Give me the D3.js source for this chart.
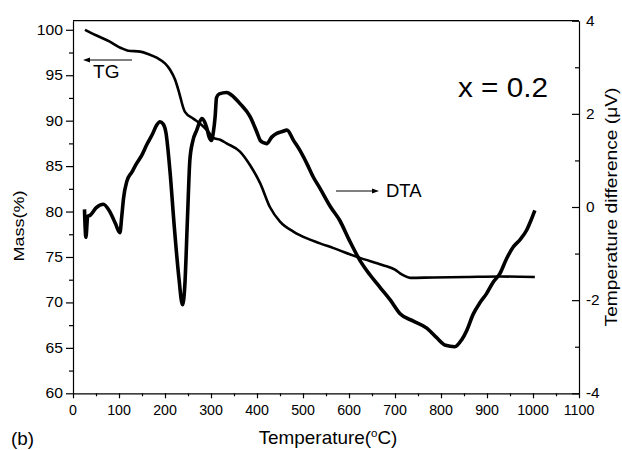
<!DOCTYPE html>
<html><head><meta charset="utf-8">
<script src="https://cdn.jsdelivr.net/npm/d3@7"></script>
<style>body{margin:0;background:#fff}svg{display:block}text{font-family:"Liberation Sans",Arial,sans-serif;fill:#000}</style>
</head><body><svg id="c" width="622" height="450"></svg>
<script>
// ---- data ----
const xTicks = [0,100,200,300,400,500,600,700,800,900,1000,1100];
const massTicks = [60,65,70,75,80,85,90,95,100];
const dtaTicks = [-4,-2,0,2,4];

const tgTemp = [26,50,80,100,109,120,146,165,183,200,211,222,229,243,262,276,294,305,320,334,363,385,407,428,450,479,493,537,565,624,674,700,711,722,733,783,856,928,1004];
const tgMass = [100,99.4,98.7,98.1,97.9,97.7,97.6,97.3,96.9,96.3,95.6,94.5,93.4,91.0,90.2,89.7,88.8,88.1,87.9,87.5,86.6,85.1,83.1,80.5,78.9,77.8,77.4,76.5,76.0,74.9,74.1,73.6,73.2,72.9,72.7,72.75,72.8,72.85,72.8];

const dtaTemp = [25,28,32,37,50,66,80,92,102,106,110,117,128,138,150,160,172,182,189,196,202,211,220,230,238,243,249,254,260,269,280,286,291,296,301,305,309,312,318,334,345,363,385,400,407,414,421,432,443,455,465,480,493,510,522,537,560,580,600,624,645,667,690,711,740,769,790,810,830,845,856,870,885,899,913,928,943,957,972,986,995,1004];
const dtaVal = [-0.05,-0.65,-0.2,-0.18,-0.02,0.06,-0.1,-0.35,-0.55,-0.2,0.2,0.55,0.75,0.93,1.12,1.33,1.55,1.76,1.83,1.78,1.6,0.75,-0.4,-1.5,-2.1,-1.7,-0.2,1.0,1.4,1.65,1.9,1.83,1.69,1.5,1.43,1.6,1.94,2.35,2.43,2.46,2.4,2.22,1.94,1.6,1.43,1.38,1.36,1.5,1.58,1.62,1.65,1.42,1.22,0.9,0.65,0.4,0.0,-0.29,-0.7,-1.15,-1.45,-1.72,-2.0,-2.29,-2.45,-2.6,-2.8,-2.97,-3.0,-2.85,-2.65,-2.3,-2.05,-1.86,-1.62,-1.43,-1.1,-0.86,-0.7,-0.5,-0.3,-0.07];

// ---- layout ----
const svg = d3.select("#c");
const L = 73, R = 579, T = 20.7, B = 393.3;
const x = d3.scaleLinear().domain([0,1100]).range([L,R]);
const yM = d3.scaleLinear().domain([60,101]).range([B,T]);
const yD = d3.scaleLinear().domain([-4,4]).range([B,T]);

function txt(px, py, str, size, sx, anchor, rot){
  const t = svg.append("text")
    .attr("transform", `translate(${px},${py}) rotate(${rot||0}) scale(${sx},1)`)
    .attr("font-size", size).attr("text-anchor", anchor||"start");
  t.text(str);
  return t;
}

// axes (ticks)
const axStyle = g => { g.selectAll("path").attr("stroke","#000").attr("stroke-width",1.2);
  g.selectAll("line").attr("stroke","#000").attr("stroke-width",1.2); g.selectAll("text").remove(); };

svg.append("g").attr("transform",`translate(${L},0)`)
  .call(d3.axisLeft(yM).tickValues(massTicks).tickSize(7).tickSizeOuter(0)).call(axStyle);
svg.append("g").attr("transform",`translate(${L},0)`)
  .call(d3.axisLeft(yM).tickValues(d3.range(62.5,100,5)).tickSize(4).tickSizeOuter(0)).call(axStyle)
  .select("path").remove();
svg.append("g").attr("transform",`translate(0,${B})`)
  .call(d3.axisBottom(x).tickValues(xTicks).tickSize(5).tickSizeOuter(0)).call(axStyle);
svg.append("g").attr("transform",`translate(0,${B})`)
  .call(d3.axisBottom(x).tickValues(d3.range(50,1100,100)).tickSize(3).tickSizeOuter(0)).call(axStyle)
  .select("path").remove();
svg.append("g").attr("transform",`translate(${R},0)`)
  .call(d3.axisRight(yD).tickValues(dtaTicks).tickSize(-7).tickSizeOuter(0)).call(axStyle);
svg.append("g").attr("transform",`translate(${R},0)`)
  .call(d3.axisRight(yD).tickValues([-3,-1,1,3]).tickSize(-4).tickSizeOuter(0)).call(axStyle)
  .select("path").remove();
svg.append("line").attr("x1",L).attr("x2",R).attr("y1",T).attr("y2",T).attr("stroke","#000").attr("stroke-width",1.2);

// tick labels
massTicks.forEach(v => txt(63, yM(v)+5, String(v), 14, 1.12, "end"));
xTicks.forEach(v => txt(x(v), 415, String(v), 15, 0.95, "middle"));
dtaTicks.forEach(v => txt(586, yD(v)+5, String(v), 14, 1.1, "start"));

// axis titles
txt(24, 226, "Mass(%)", 15, 1.2, "middle", -90);
txt(617, 207, "Temperature difference (μV)", 16, 1.2, "middle", -90);
const tt = txt(328, 444, "", 18, 1.05, "middle");
tt.append("tspan").text("Temperature(");
tt.append("tspan").attr("font-size",11).attr("dy",-7).text("o");
tt.append("tspan").attr("dy",7).text("C)");
txt(11, 445, "(b)", 18, 1.05, "start");

// series
const lineTG = d3.line().x((d,i)=>x(tgTemp[i])).y((d,i)=>yM(tgMass[i])).curve(d3.curveMonotoneX);
const lineDTA = d3.line().x((d,i)=>x(dtaTemp[i])).y((d,i)=>yD(dtaVal[i])).curve(d3.curveMonotoneX);
svg.append("path").attr("d", lineTG(tgTemp)).attr("fill","none").attr("stroke","#000").attr("stroke-width",2.6);
svg.append("path").attr("d", lineDTA(dtaTemp)).attr("fill","none").attr("stroke","#000").attr("stroke-width",3.6).attr("stroke-linejoin","round");

// annotations
svg.append("line").attr("x1",88).attr("x2",132).attr("y1",60).attr("y2",60).attr("stroke","#000").attr("stroke-width",1);
svg.append("path").attr("d","M83,60 L90,57.5 L90,62.5 Z").attr("fill","#000");
txt(93, 78, "TG", 18.5, 1.03, "start");
svg.append("line").attr("x1",336).attr("x2",373).attr("y1",191).attr("y2",191).attr("stroke","#000").attr("stroke-width",1);
svg.append("path").attr("d","M379,191 L372,188.5 L372,193.5 Z").attr("fill","#000");
txt(386, 197, "DTA", 18.5, 1.0, "start");
txt(458, 97, "x = 0.2", 27, 1.1, "start");
</script></body></html>
